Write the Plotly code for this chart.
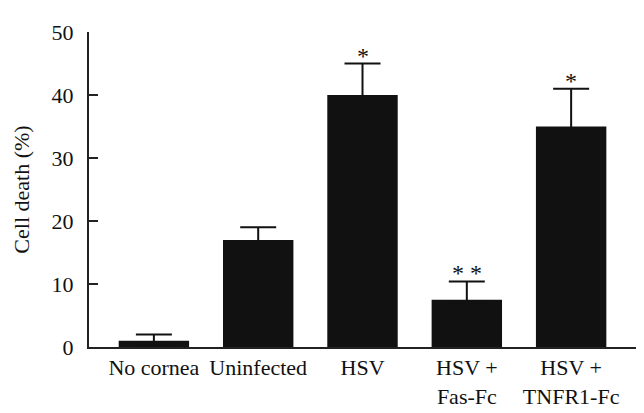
import plotly.graph_objects as go

categories = ["No cornea", "Uninfected", "HSV", "HSV +<br>Fas-Fc", "HSV +<br>TNFR1-Fc"]
cell_death = [1.0, 17.0, 40.0, 7.5, 35.0]
error_top = [2.0, 19.0, 45.0, 10.4, 41.0]
significance = ["", "", "*", "*\u00a0*", "*"]
y_ticks = [0, 10, 20, 30, 40, 50]

err_plus = [t - v for t, v in zip(error_top, cell_death)]
x_idx = list(range(len(categories)))

FONT = "Liberation Serif"
INK = "#111111"
FS = 22

fig = go.Figure()
fig.add_trace(go.Bar(
    x=x_idx,
    y=cell_death,
    width=0.675,
    marker=dict(color=INK, line=dict(width=0)),
    error_y=dict(type="data", symmetric=False, array=err_plus,
                 arrayminus=[0.4] * len(cell_death),
                 color=INK, thickness=2, width=18),
    showlegend=False,
))

for xi, top, s in zip(x_idx, error_top, significance):
    if s:
        fig.add_annotation(x=xi, y=top, text=s, showarrow=False,
                           yanchor="middle", yshift=8,
                           font=dict(family=FONT, size=24, color=INK))

fig.update_layout(
    width=644, height=413,
    margin=dict(l=80, r=14, t=22, b=62.5, pad=0),
    paper_bgcolor="white", plot_bgcolor="white",
    font=dict(family=FONT, size=FS, color=INK),
)
fig.update_xaxes(
    range=[-0.622, 4.641],
    tickmode="array", tickvals=x_idx, ticktext=categories,
    showline=True, linewidth=2, linecolor="#222222",
    ticks="", showgrid=False, zeroline=False,
    tickfont=dict(family=FONT, size=FS, color=INK),
)
fig.update_yaxes(
    range=[0, 50],
    tickmode="array", tickvals=y_ticks,
    showline=True, linewidth=2, linecolor="#222222",
    ticks="inside", ticklen=9, tickwidth=2, tickcolor="#222222",
    ticklabelstandoff=9,
    showgrid=False, zeroline=False,
    tickfont=dict(family=FONT, size=FS, color=INK),
    title=dict(text="Cell death (%)", font=dict(family=FONT, size=FS, color=INK), standoff=16),
)

fig.write_html("out.html")
